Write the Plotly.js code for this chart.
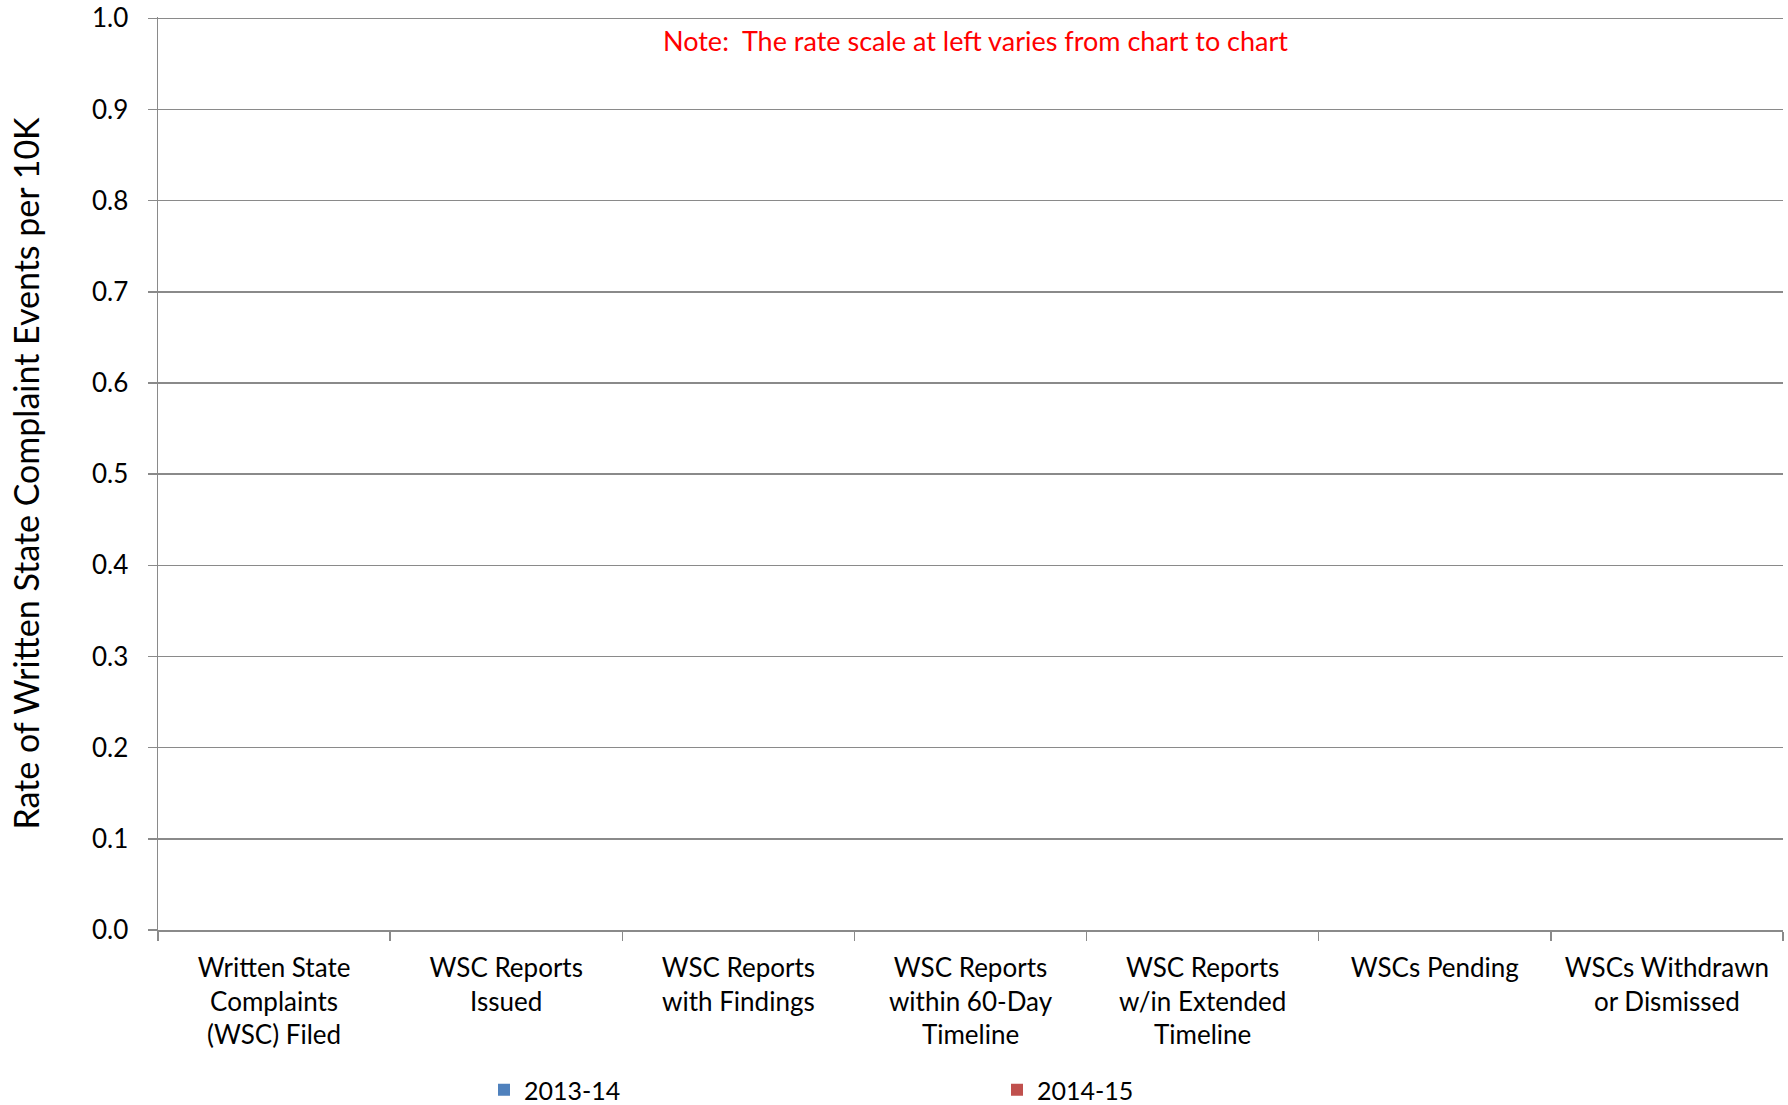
<!DOCTYPE html>
<html>
<head>
<meta charset="utf-8">
<script src="https://cdn.plot.ly/plotly-3.0.1.min.js"></script>
<style>html,body{margin:0;padding:0;background:#fff;}#chart{width:1788px;height:1105px;}</style>
</head>
<body>
<div id="chart"></div>
<script>
const categories = [
  "Written State<br>Complaints<br>(WSC) Filed",
  "WSC Reports<br>Issued",
  "WSC Reports<br>with Findings",
  "WSC Reports<br>within 60-Day<br>Timeline",
  "WSC Reports<br>w/in Extended<br>Timeline",
  "WSCs Pending",
  "WSCs Withdrawn<br>or Dismissed"
];
const seriesNames = ["2013-14", "2014-15"];
const values2013 = [0, 0, 0, 0, 0, 0, 0];
const values2014 = [0, 0, 0, 0, 0, 0, 0];
const yTicks = [0, 0.1, 0.2, 0.3, 0.4, 0.5, 0.6, 0.7, 0.8, 0.9, 1.0];
const noteText = "Note:\u00a0 The rate scale at left varies from chart to chart";
const yTitle = "Rate of Written State Complaint Events per 10K";

const FONT = "Lato, 'Open Sans', sans-serif";
const GRAY = "#8a8a8a";

const traces = [
  {type: "bar", name: seriesNames[0], x: categories, y: values2013,
   marker: {color: "#4F81BD", line: {width: 0}}},
  {type: "bar", name: seriesNames[1], x: categories, y: values2014,
   marker: {color: "#C0504D", line: {width: 0}}}
];

const layout = {
  width: 1788, height: 1105,
  margin: {l: 158, r: 5, t: 17, b: 175},
  paper_bgcolor: "#fff", plot_bgcolor: "#fff",
  font: {family: FONT, size: 26, color: "#000"},
  barmode: "group",
  xaxis: {
    type: "category",
    tickson: "boundaries",
    ticks: "outside", ticklen: 9, tickwidth: 1.5, tickcolor: GRAY,
    ticklabelstandoff: 14,
    showline: true, linecolor: GRAY, linewidth: 1.5,
    showgrid: false, zeroline: false,
    tickfont: {family: FONT, size: 26, color: "#000"},
    automargin: false,
    fixedrange: true
  },
  yaxis: {
    range: [0, 1.0015],
    tickvals: yTicks,
    tickformat: ".1f",
    ticks: "outside", ticklen: 9, tickwidth: 1.5, tickcolor: GRAY,
    ticklabelstandoff: 14,
    showline: true, linecolor: GRAY, linewidth: 1.5,
    showgrid: true, gridcolor: GRAY, gridwidth: 1.5,
    zeroline: false,
    tickfont: {family: FONT, size: 26, color: "#000"},
    title: {text: yTitle, font: {family: FONT, size: 34, color: "#000"}, standoff: 42},
    automargin: false,
    fixedrange: true
  },
  showlegend: true,
  legend: {
    orientation: "h",
    xref: "container", yref: "container",
    x: 484 / 1788, xanchor: "left",
    y: 1 - 1090 / 1105, yanchor: "middle",
    entrywidth: 468, entrywidthmode: "pixels",
    font: {family: FONT, size: 25, color: "#000"},
    bgcolor: "rgba(0,0,0,0)"
  },
  annotations: [{
    text: noteText, xref: "paper", yref: "paper",
    x: (975 - 158) / 1625, y: 1 - (40 - 17) / 913,
    xanchor: "center", yanchor: "middle", showarrow: false,
    font: {family: FONT, size: 27, color: "#FF0000"}
  }]
};

Plotly.newPlot("chart", traces, layout, {displayModeBar: false, staticPlot: true});
</script>
</body>
</html>
